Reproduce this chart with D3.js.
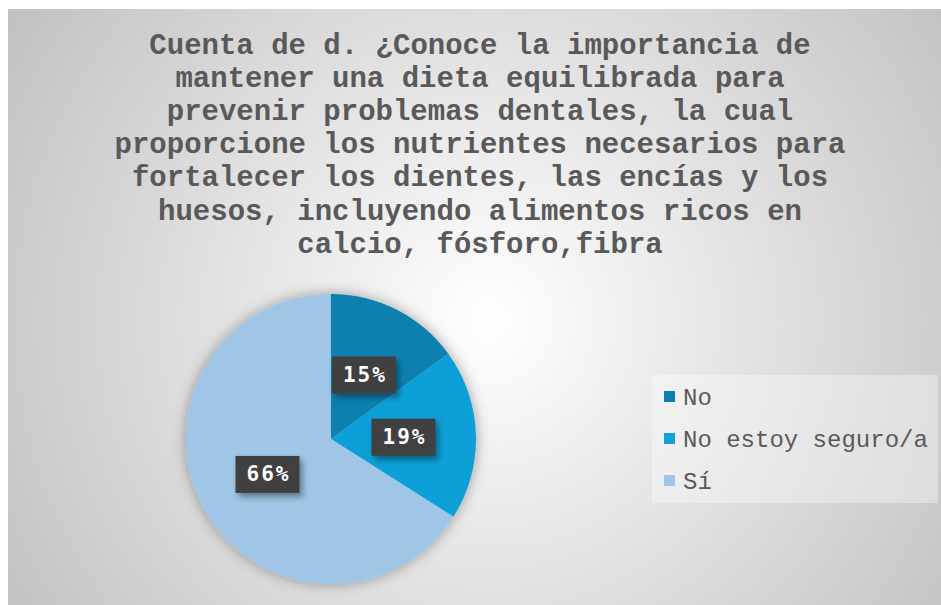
<!DOCTYPE html>
<html>
<head>
<meta charset="utf-8">
<script src="https://cdn.jsdelivr.net/npm/d3@7"></script>
<style>
  body { margin: 0; background: #fff; }
  svg { display: block; }
</style>
</head>
<body>
<div class="chart"></div>
<script>
// pie data
const categories = ["No", "No estoy seguro/a", "Sí"];
const values = [15, 19, 66];
const colors = ["#0b80b0", "#11a0d8", "#9fc6e7"];
const titleLines = [
  "Cuenta de d. ¿Conoce la importancia de",
  "mantener una dieta equilibrada para",
  "prevenir problemas dentales, la cual",
  "proporcione los nutrientes necesarios para",
  "fortalecer los dientes, las encías y los",
  "huesos, incluyendo alimentos ricos en",
  "calcio, fósforo,fibra"
];

const monoFont = "'Courier New', 'Nimbus Mono PS', 'FreeMono', 'Liberation Mono', monospace";

const width = 941, height = 605;
const svg = d3.select(".chart").append("svg")
  .attr("width", width)
  .attr("height", height);

const defs = svg.append("defs");
const grad = defs.append("radialGradient")
  .attr("id", "bg")
  .attr("gradientUnits", "userSpaceOnUse")
  .attr("cx", 490).attr("cy", 320).attr("r", 560);
grad.append("stop").attr("offset", "0%").attr("stop-color", "#ffffff");
grad.append("stop").attr("offset", "100%").attr("stop-color", "#c2c2c2");

const shadow = defs.append("filter").attr("id", "shadow")
  .attr("x", "-30%").attr("y", "-30%").attr("width", "160%").attr("height", "160%");
shadow.append("feDropShadow")
  .attr("dx", 0).attr("dy", 0).attr("stdDeviation", 7)
  .attr("flood-color", "#000").attr("flood-opacity", 0.35);

const boxShadow = defs.append("filter").attr("id", "boxShadow")
  .attr("x", "-30%").attr("y", "-30%").attr("width", "160%").attr("height", "180%");
boxShadow.append("feDropShadow")
  .attr("dx", 3).attr("dy", 4).attr("stdDeviation", 3)
  .attr("flood-color", "#000").attr("flood-opacity", 0.4);

// chart area
svg.append("rect")
  .attr("x", 8).attr("y", 9)
  .attr("width", width - 8).attr("height", height - 9)
  .attr("fill", "url(#bg)");

// title
svg.append("text")
  .attr("text-anchor", "middle")
  .attr("font-family", monoFont)
  .attr("font-weight", "bold")
  .attr("font-size", 29)
  .attr("fill", "#595959")
  .selectAll("tspan")
  .data(titleLines)
  .join("tspan")
  .attr("x", 480)
  .attr("y", (d, i) => 54 + i * 33.1)
  .text(d => d);

// pie
const cx = 331, cy = 439, r = 145;
const pie = d3.pie().sort(null).value(d => d.value);
const arcs = pie(categories.map((c, i) => ({ name: c, value: values[i] })));
const arc = d3.arc().innerRadius(0).outerRadius(r);

const g = svg.append("g").attr("transform", `translate(${cx},${cy})`);

g.append("g")
  .attr("filter", "url(#shadow)")
  .selectAll("path")
  .data(arcs)
  .join("path")
  .attr("d", arc)
  .attr("fill", (d, i) => colors[i]);

// data labels
const total = d3.sum(values);
const labels = g.selectAll(".lbl")
  .data(arcs)
  .join("g")
  .attr("class", "lbl")
  .attr("transform", d => `translate(${arc.centroid(d)})`);

labels.append("rect")
  .attr("x", -32).attr("y", -18)
  .attr("width", 64).attr("height", 37)
  .attr("fill", "#404040")
  .attr("filter", "url(#boxShadow)");

labels.append("text")
  .attr("text-anchor", "middle")
  .attr("dy", "0.36em")
  .attr("x", 1)
  .attr("font-family", "'DejaVu Sans Mono', monospace")
  .attr("font-weight", "bold")
  .attr("font-size", 21)
  .attr("letter-spacing", 2)
  .attr("fill", "#ffffff")
  .text(d => Math.round(d.data.value / total * 100) + "%");

// legend
const legend = svg.append("g");
legend.append("rect")
  .attr("x", 652).attr("y", 375)
  .attr("width", 286).attr("height", 128)
  .attr("fill", "#ffffff").attr("fill-opacity", 0.35);

const items = legend.selectAll(".item")
  .data(categories)
  .join("g")
  .attr("class", "item")
  .attr("transform", (d, i) => `translate(664, ${397 + i * 42})`);

items.append("rect")
  .attr("x", 0).attr("y", -6)
  .attr("width", 11).attr("height", 11)
  .attr("fill", (d, i) => colors[i]);

items.append("text")
  .attr("x", 19)
  .attr("dy", "0.35em")
  .attr("font-family", monoFont)
  .attr("font-size", 24)
  .attr("fill", "#595959")
  .text(d => d);
</script>
</body>
</html>
